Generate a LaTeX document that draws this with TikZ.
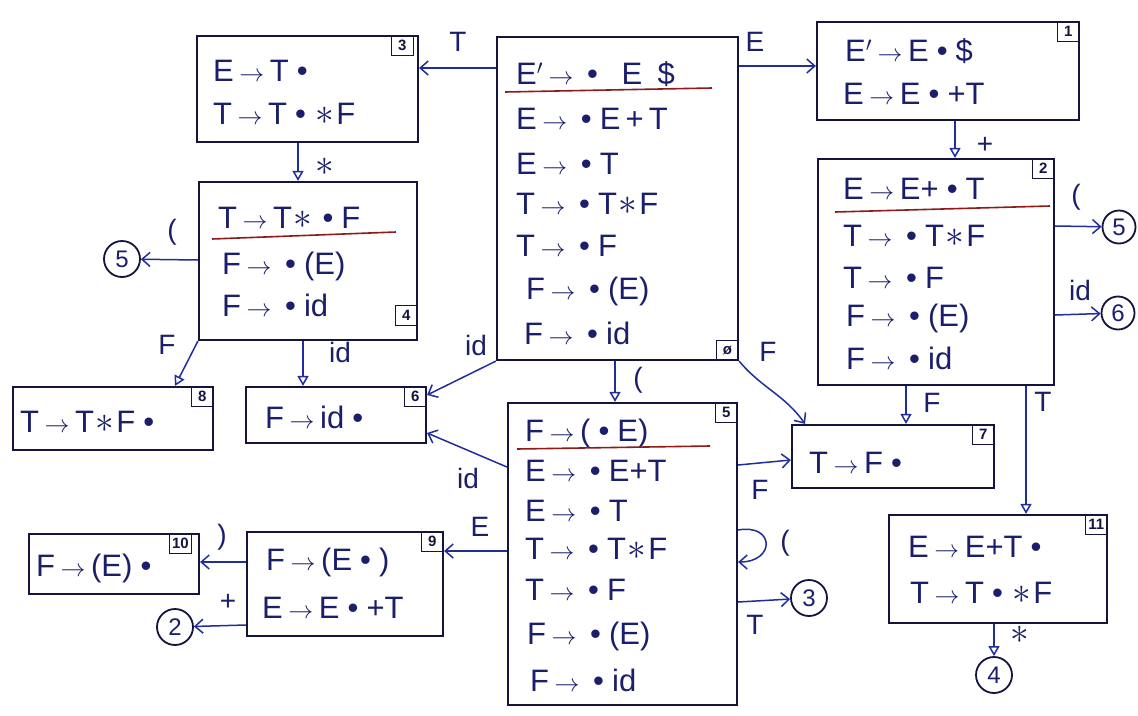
\documentclass[tikz,border=0pt]{standalone}
\usepackage{fontspec}
\setmainfont{Liberation Sans}
\usetikzlibrary{arrows.meta}
\definecolor{ink}{HTML}{1B1F6B}
\definecolor{boxc}{HTML}{14143F}
\definecolor{arc}{HTML}{1F2E9A}
\definecolor{redl}{HTML}{8E1B1B}
\newcommand\ar{\hspace{0.18em}$\rightarrow$\hspace{0.18em}}
\newcommand\dt{\hspace{0.26em}\textbullet\hspace{0.26em}}
\newcommand\st{\hspace{0.06em}\scalebox{1.5}{$\ast$}\hspace{0.06em}}
\begin{document}
\begin{tikzpicture}[x=1pt,y=-1pt,
 box/.style={draw=boxc,line width=2.2pt,inner sep=0pt},
 item/.style={anchor=base west,inner sep=0pt,text=ink,font=\fontsize{31}{34}\selectfont},
 tab/.style={draw=boxc,line width=1.5pt,inner sep=2pt,minimum width=22pt,minimum height=20pt,font=\fontsize{15}{16}\selectfont\bfseries,text=boxc},
 lab/.style={text=ink,font=\fontsize{28}{30}\selectfont,inner sep=0pt},
 circ/.style={circle,draw=boxc,line width=1.8pt,minimum size=36pt,inner sep=0pt,text=ink,font=\fontsize{24}{26}\selectfont},
 ul/.style={draw=redl,line width=1.6pt},
 tr/.style={draw=arc,line width=1.5pt,-{Straight Barb[length=8pt,width=14pt]}},
 dn/.style={draw=arc,line width=1.5pt,-{Triangle[open,length=10pt,width=11pt]}}]
\fill[white] (0,0) rectangle (1138,715);
\useasboundingbox (0,0) rectangle (1138,715);

% state boxes
\node[box,minimum width=241pt,minimum height=323pt] (s0) at (617.5,198.5) {};
\node[box,minimum width=262pt,minimum height=98pt] (s1) at (948,71) {};
\node[box,minimum width=236pt,minimum height=226pt] (s2) at (936,272) {};
\node[box,minimum width=221pt,minimum height=106pt] (s3) at (307.5,89) {};
\node[box,minimum width=218pt,minimum height=158pt] (s4) at (308,261) {};
\node[box,minimum width=200pt,minimum height=63pt] (s8) at (113,418.5) {};
\node[box,minimum width=180pt,minimum height=56pt] (s6) at (336,415) {};
\node[box,minimum width=229pt,minimum height=302pt] (s5) at (622.5,554) {};
\node[box,minimum width=202pt,minimum height=63pt] (s7) at (893,456.5) {};
\node[box,minimum width=196pt,minimum height=104pt] (s9) at (345,584) {};
\node[box,minimum width=170pt,minimum height=60pt] (s10) at (114,564) {};
\node[box,minimum width=218pt,minimum height=108pt] (s11) at (998,569) {};

% state number tabs
\node[tab,anchor=south east] (t0) at (s0.south east) {ø};
\node[tab,anchor=north east] (t1) at (s1.north east) {1};
\node[tab,anchor=north east] (t2) at (s2.north east) {2};
\node[tab,anchor=north east] (t3) at ([xshift=-5pt]s3.north east) {3};
\node[tab,anchor=south east] (t4) at ([yshift=15pt]s4.south east) {4};
\node[tab,anchor=north east] (t5) at (s5.north east) {5};
\node[tab,anchor=north east] (t6) at (s6.north east) {6};
\node[tab,anchor=north east] (t7) at (s7.north east) {7};
\node[tab,anchor=north east] (t8) at (s8.north east) {8};
\node[tab,anchor=north east] (t9) at (s9.north east) {9};
\node[tab,anchor=north east] (t10) at ([xshift=-8pt]s10.north east) {10};
\node[tab,anchor=north east] (t11) at (s11.north east) {11};

% items (baseline = centre + 11)
% state 0
\node[item] (i0a) at (516,84) {E$'$\ar\dt\enspace E\enspace\$};
\node[item] (i0b) at (516,129) {E\ar\dt E\,+\,T};
\node[item] (i0c) at (516,174) {E\ar\dt T};
\node[item] (i0d) at (516,214) {T\ar\dt T\st F};
\node[item] (i0e) at (516,256) {T\ar\dt F};
\node[item] (i0f) at (526,299) {F\ar\dt (E)};
\node[item] (i0g) at (524,344) {F\ar\dt id};
\draw[ul] (505,92) -- (712,88);
% state 1
\node[item] (i1a) at (845,61) {E$'$\ar E\dt\$};
\node[item] (i1b) at (843,104) {E\ar E\dt +T};
% state 2
\node[item] (i2a) at (843,199) {E\ar E+\dt T};
\node[item] (i2b) at (843,246) {T\ar\dt T\st F};
\node[item] (i2c) at (843,288) {T\ar\dt F};
\node[item] (i2d) at (846,326) {F\ar\dt (E)};
\node[item] (i2e) at (846,369) {F\ar\dt id};
\draw[ul] (835,212) -- (1050,206);
% state 3
\node[item] (i3a) at (213,81) {E\ar T\dt};
\node[item] (i3b) at (213,124) {T\ar T\dt\st F};
% state 4
\node[item] (i4a) at (218,228) {T\ar T\st\dt F};
\node[item] (i4b) at (222,274) {F\ar\dt (E)};
\node[item] (i4c) at (222,316) {F\ar\dt id};
\draw[ul] (212,239) -- (396,232);
% state 8
\node[item] (i8a) at (20,432) {T\ar T\st F\dt};
% state 6
\node[item] (i6a) at (265,428) {F\ar id\dt};
% state 5
\node[item] (i5a) at (525,441) {F\ar(\dt E)};
\node[item] (i5b) at (525,481) {E\ar\dt E+T};
\node[item] (i5c) at (525,521) {E\ar\dt T};
\node[item] (i5d) at (525,559) {T\ar\dt T\st F};
\node[item] (i5e) at (525,600) {T\ar\dt F};
\node[item] (i5f) at (527,644) {F\ar\dt (E)};
\node[item] (i5g) at (530,691) {F\ar\dt id};
\draw[ul] (517,449) -- (710,446);
% state 7
\node[item] (i7a) at (809,473) {T\ar F\dt};
% state 9
\node[item] (i9a) at (266,570) {F\ar(E\dt)};
\node[item] (i9b) at (262,618) {E\ar E\dt +T};
% state 10
\node[item] (i10a) at (36,576) {F\ar(E)\dt};
% state 11
\node[item] (i11a) at (908,557) {E\ar E+T\dt};
\node[item] (i11b) at (910,603) {T\ar T\dt\st F};

% circles
\node[circ] (c5a) at (122,259) {5};
\node[circ,minimum size=33pt] (c5b) at (1119,227) {5};
\node[circ,minimum size=33pt] (c6) at (1118,313) {6};
\node[circ] (c2) at (175,627) {2};
\node[circ] (c3) at (809,598) {3};
\node[circ] (c4) at (994,675) {4};

% transitions
\draw[tr] (s0.west |- 0,68) -- (s3.east |- 0,68);
\node[lab] (lT03) at (458,42) {T};
\draw[tr] (s0.east |- 0,66) -- (s1.west |- 0,66);
\node[lab] (lE01) at (755,42) {E};
\draw[dn] (s1.south -| 955,0) -- (s2.north -| 955,0);
\node[lab] (lp12) at (985,145) {+};
\draw[dn] (s3.south -| 298,0) -- (s4.north -| 298,0);
\node[lab] (ls34) at (325,167) {\scalebox{1.5}{$\ast$}};
\draw[tr] (s4.west |- 0,260) -- (c5a);
\node[lab] (lo4) at (172,232) {(};
\draw[dn] (s4.south west) -- (175,0 |- s8.north);
\node[lab] (lF48) at (167,345) {F};
\draw[dn] (s4.south -| 303,0) -- (s6.north -| 303,0);
\node[lab] (lid46) at (340,352) {id};
\draw[tr] (s0.south west) -- (s6.east |- 0,395);
\node[lab] (lid06) at (476,345) {id};
\draw[dn] (s0.south -| 615,0) -- (s5.north -| 615,0);
\node[lab] (lo05) at (638,380) {(};
\draw[tr] (s0.south east) to[out=-50,in=125] (805,0 |- s7.north);
\node[lab] (lF07) at (768,352) {F};
\draw[tr] (s2.east |- 0,226) -- (c5b);
\node[lab] (lo2) at (1076,197) {(};
\draw[tr] (s2.east |- 0,315) -- (c6);
\node[lab] (lid2) at (1080,290) {id};
\draw[dn] (s2.south -| 906,0) -- (s7.north -| 906,0);
\node[lab] (lF27) at (932,403) {F};
\draw[dn] (s2.south -| 1026,0) -- (s11.north -| 1026,0);
\node[lab] (lT211) at (1043,402) {T};
\draw[tr] (s5.west |- 0,467) -- (s6.east |- 0,433);
\node[lab] (lid56) at (468,478) {id};
\draw[tr] (s5.east |- 0,465) -- (s7.west |- 0,460);
\node[lab] (lF57) at (760,490) {F};
\draw[tr] (s5.west |- 0,551) -- (s9.east |- 0,551);
\node[lab] (lE59) at (480,527) {E};
\draw[tr] (s5.east |- 0,530) to[out=10,in=0,looseness=3] (s5.east |- 0,562);
\node[lab] (lo55) at (785,543) {(};
\draw[tr] (s5.east |- 0,602) -- (c3);
\node[lab] (lT53) at (755,625) {T};
\draw[tr] (s9.west |- 0,562) -- (s10.east |- 0,562);
\node[lab] (lc910) at (222,537) {)};
\draw[tr] (s9.west |- 0,625) -- (c2);
\node[lab] (lp92) at (228,602) {+};
\draw[dn] (s11.south -| 994,0) -- (c4);
\node[lab] (ls114) at (1020,635) {\scalebox{1.5}{$\ast$}};
\end{tikzpicture}
\end{document}
